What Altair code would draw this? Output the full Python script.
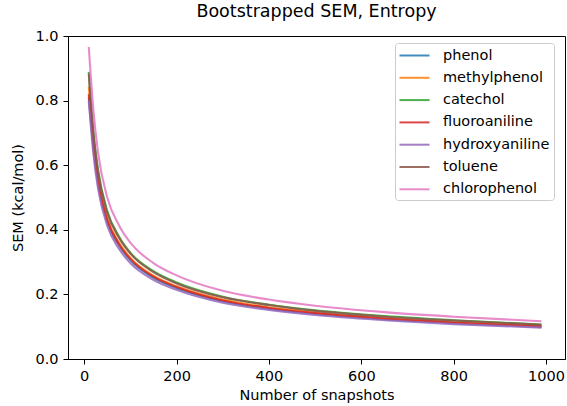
import altair as alt
import pandas as pd

# Number of snapshots used for each bootstrap estimate
snapshots = [10, 20, 30, 50, 75, 100, 150, 200, 300, 400, 500, 650, 800, 990]

# Bootstrapped standard error of the entropy term (kcal/mol)
phenol = [0.810, 0.655, 0.544, 0.425, 0.353, 0.306, 0.252, 0.220, 0.179, 0.156, 0.140, 0.123, 0.111, 0.099]
methylphenol = [0.843, 0.670, 0.557, 0.435, 0.361, 0.313, 0.258, 0.225, 0.184, 0.160, 0.144, 0.126, 0.114, 0.102]
catechol = [0.889, 0.705, 0.586, 0.458, 0.380, 0.329, 0.272, 0.237, 0.193, 0.168, 0.151, 0.133, 0.120, 0.107]
fluoroaniline = [0.820, 0.662, 0.550, 0.430, 0.357, 0.310, 0.255, 0.223, 0.181, 0.158, 0.142, 0.125, 0.113, 0.101]
hydroxyaniline = [0.800, 0.635, 0.528, 0.413, 0.342, 0.297, 0.245, 0.214, 0.174, 0.152, 0.136, 0.120, 0.108, 0.097]
toluene = [0.884, 0.697, 0.579, 0.453, 0.376, 0.326, 0.269, 0.234, 0.191, 0.167, 0.149, 0.131, 0.119, 0.106]
chlorophenol = [0.966, 0.770, 0.640, 0.500, 0.415, 0.360, 0.297, 0.259, 0.211, 0.184, 0.165, 0.145, 0.131, 0.117]

compounds = ["phenol", "methylphenol", "catechol", "fluoroaniline",
             "hydroxyaniline", "toluene", "chlorophenol"]
series = [phenol, methylphenol, catechol, fluoroaniline,
          hydroxyaniline, toluene, chlorophenol]
colors = ["#1f77b4", "#ff7f0e", "#2ca02c", "#d62728",
          "#9467bd", "#8c564b", "#e377c2"]

x_ticks = [0, 200, 400, 600, 800, 1000]
y_ticks = [0.0, 0.2, 0.4, 0.6, 0.8, 1.0]

rows = []
for name, values in zip(compounds, series):
    for n, v in zip(snapshots, values):
        rows.append({"compound": name, "n": n, "sem": v})
df = pd.DataFrame(rows)

FONT = "DejaVu Sans"

chart = (
    alt.Chart(df)
    .mark_line(strokeWidth=2.1, interpolate="monotone", opacity=0.85)
    .encode(
        x=alt.X(
            "n:Q",
            scale=alt.Scale(domain=[-35, 1041], nice=False, zero=False),
            axis=alt.Axis(values=x_ticks, format="d", title="Number of snapshots"),
        ),
        y=alt.Y(
            "sem:Q",
            scale=alt.Scale(domain=[0, 1], nice=False),
            axis=alt.Axis(values=y_ticks, format=".1f", title="SEM (kcal/mol)",
                          titlePadding=9),
        ),
        color=alt.Color(
            "compound:N",
            sort=compounds,
            scale=alt.Scale(domain=compounds, range=colors),
            legend=alt.Legend(
                title=None,
                orient="none",
                legendX=327,
                legendY=7,
                padding=4,
                strokeColor="#cccccc",
                fillColor="white",
                cornerRadius=3,
                # wide horizontal handle, kept short vertically so rows stay compact
                symbolType="M-2,0H2",
                symbolSize=225,
                symbolOffset=7,
                symbolStrokeWidth=2,
                symbolOpacity=0.85,
                labelFont=FONT,
                labelFontSize=14.5,
                labelColor="black",
                labelOffset=20,
                rowPadding=7.3,
            ),
        ),
    )
    .properties(
        width=497,
        height=323,
        title=alt.TitleParams(
            "Bootstrapped SEM, Entropy",
            font=FONT,
            fontSize=17.5,
            fontWeight="normal",
            color="black",
            anchor="middle",
            offset=8,
        ),
        autosize=alt.AutoSizeParams(type="none"),
        padding={"left": 68, "top": 36, "right": 2, "bottom": 47},
    )
    .configure_view(stroke="black", strokeWidth=1)
    .configure_axis(
        grid=False,
        domainColor="black",
        domainWidth=1,
        tickColor="black",
        tickSize=5,
        tickWidth=1,
        labelFont=FONT,
        labelFontSize=14.5,
        labelColor="black",
        labelPadding=5,
        titleFont=FONT,
        titleFontSize=14.5,
        titleFontWeight="normal",
        titleColor="black",
        titlePadding=6,
    )
)

chart.save("out.html", embed_options={"renderer": "svg", "actions": False})
